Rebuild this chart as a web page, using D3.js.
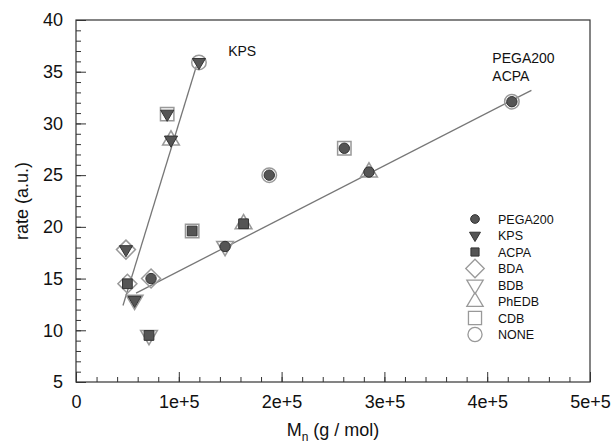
<!DOCTYPE html>
<html>
<head>
<meta charset="utf-8">
<script src="https://cdn.jsdelivr.net/npm/d3@7"></script>
<style>
  body { margin: 0; background: #fff; }
  text { font-family: "Liberation Sans", Arial, sans-serif; fill: #111; }
</style>
</head>
<body>
<script>
// data
var mn       = [4.86e4, 5.0e4, 7.3e4, 5.7e4, 7.1e4, 8.87e4, 9.24e4, 1.196e5, 1.13e5, 1.45e5, 1.63e5, 1.88e5, 2.61e5, 2.85e5, 4.24e5];
var rate     = [17.8, 14.5, 15.0, 12.9, 9.5, 30.9, 28.4, 35.9, 19.6, 18.1, 20.3, 25.0, 27.6, 25.3, 32.1];
var initOf   = ["KPS", "ACPA", "PEGA200", "KPS", "ACPA", "KPS", "KPS", "KPS", "ACPA", "PEGA200", "ACPA", "PEGA200", "PEGA200", "PEGA200", "PEGA200"];
var modOf    = ["BDA", "BDA", "BDA", "BDB", "BDB", "CDB", "PhEDB", "NONE", "CDB", "BDB", "PhEDB", "NONE", "CDB", "PhEDB", "NONE"];

var initiators = ["PEGA200", "KPS", "ACPA"];
var modifiers  = ["BDA", "BDB", "PhEDB", "CDB", "NONE"];

// fitted lines, end points
var kpsFitX  = [4.57e4, 1.17e5];
var kpsFitY  = [12.4, 35.5];
var pegaFitX = [5.84e4, 4.43e5];
var pegaFitY = [13.6, 33.2];

var xTicks = [0, 1e5, 2e5, 3e5, 4e5, 5e5];
var xTickLabels = ["0", "1e+5", "2e+5", "3e+5", "4e+5", "5e+5"];
var yTicks = [5, 10, 15, 20, 25, 30, 35, 40];

// set up
var margin = {top: 20, right: 26, bottom: 66, left: 76},
    outerWidth = 616,
    outerHeight = 448,
    width = outerWidth - margin.left - margin.right,
    height = outerHeight - margin.top - margin.bottom;

var x = d3.scaleLinear().domain([0, 5e5]).range([0, width]);
var y = d3.scaleLinear().domain([5, 40]).range([height, 0]);

var svg = d3.select("body").append("svg")
    .attr("width", outerWidth)
    .attr("height", outerHeight);

var g = svg.append("g")
    .attr("transform", "translate(" + margin.left + "," + margin.top + ")");

// frame
g.append("rect")
    .attr("width", width)
    .attr("height", height)
    .attr("fill", "none")
    .attr("stroke", "#333")
    .attr("stroke-width", 1.2);

// minor ticks (inside)
var xMinor = d3.range(0, 5e5 + 1, 2e4);
var yMinor = d3.range(5, 40.01, 1);

g.append("g")
    .attr("transform", "translate(0," + height + ")")
    .call(d3.axisBottom(x).tickValues(xMinor).tickSize(-5).tickFormat(""))
    .call(function(s) { s.select(".domain").remove(); s.selectAll("line").attr("stroke", "#333"); });

g.append("g")
    .call(d3.axisLeft(y).tickValues(yMinor).tickSize(-5).tickFormat(""))
    .call(function(s) { s.select(".domain").remove(); s.selectAll("line").attr("stroke", "#333"); });

// major ticks + labels
g.append("g")
    .attr("transform", "translate(0," + height + ")")
    .call(d3.axisBottom(x).tickValues(xTicks).tickSize(-10).tickPadding(13)
        .tickFormat(function(d, i) { return xTickLabels[i]; }))
    .call(function(s) {
        s.select(".domain").remove();
        s.selectAll("line").attr("stroke", "#333");
        s.selectAll("text").attr("font-size", "18px").attr("font-family", "Liberation Sans, Arial, sans-serif").attr("fill", "#111");
    });

g.append("g")
    .call(d3.axisLeft(y).tickValues(yTicks).tickSize(-10).tickPadding(13))
    .call(function(s) {
        s.select(".domain").remove();
        s.selectAll("line").attr("stroke", "#333");
        s.selectAll("text").attr("font-size", "18px").attr("font-family", "Liberation Sans, Arial, sans-serif").attr("fill", "#111");
    });

// axis titles
g.append("text")
    .attr("transform", "rotate(-90)")
    .attr("x", -height / 2)
    .attr("y", -margin.left + 28)
    .attr("text-anchor", "middle")
    .attr("font-size", "18px")
    .text("rate (a.u.)");

var xt = g.append("text")
    .attr("x", width / 2)
    .attr("y", height + 54)
    .attr("text-anchor", "middle")
    .attr("font-size", "18px");
xt.append("tspan").text("M");
xt.append("tspan").attr("font-size", "12px").attr("dy", 5).text("n");
xt.append("tspan").attr("dy", -5).text(" (g / mol)");

// fit lines
var line = d3.line().x(function(d) { return x(d[0]); }).y(function(d) { return y(d[1]); });
[[kpsFitX, kpsFitY], [pegaFitX, pegaFitY]].forEach(function(f) {
    g.append("path")
        .attr("d", line(f[0].map(function(v, i) { return [v, f[1][i]]; })))
        .attr("fill", "none")
        .attr("stroke", "#777")
        .attr("stroke-width", 1.3);
});

// symbol shapes
var triDown = {draw: function(c, s) { var r = Math.sqrt(s) / 1.6; c.moveTo(-r, -r * 0.6); c.lineTo(r, -r * 0.6); c.lineTo(0, r * 1.1); c.closePath(); }};
var triUp   = {draw: function(c, s) { var r = Math.sqrt(s) / 1.6; c.moveTo(-r, r * 0.6); c.lineTo(r, r * 0.6); c.lineTo(0, -r * 1.1); c.closePath(); }};
var diamond = {draw: function(c, s) { var r = Math.sqrt(s) / 1.6; c.moveTo(0, -r); c.lineTo(r, 0); c.lineTo(0, r); c.lineTo(-r, 0); c.closePath(); }};

var fillShape = {"PEGA200": d3.symbolCircle, "KPS": triDown, "ACPA": d3.symbolSquare};
var fillSize  = {"PEGA200": 85, "KPS": 110, "ACPA": 95};
var openShape = {"BDA": diamond, "BDB": triDown, "PhEDB": triUp, "CDB": d3.symbolSquare, "NONE": d3.symbolCircle};
var openSize  = {"BDA": 230, "BDB": 180, "PhEDB": 180, "CDB": 180, "NONE": 165};

var pts = mn.map(function(v, i) { return {x: v, y: rate[i], init: initOf[i], mod: modOf[i]}; });

// open markers
g.selectAll(".open")
    .data(pts)
    .enter().append("path")
    .attr("class", "open")
    .attr("transform", function(d) { return "translate(" + x(d.x) + "," + y(d.y) + ")"; })
    .attr("d", function(d) { return d3.symbol(openShape[d.mod], openSize[d.mod])(); })
    .attr("fill", "none")
    .attr("stroke", "#999")
    .attr("stroke-width", 1.5);

// filled markers
g.selectAll(".filled")
    .data(pts)
    .enter().append("path")
    .attr("class", "filled")
    .attr("transform", function(d) { return "translate(" + x(d.x) + "," + y(d.y) + ")"; })
    .attr("d", function(d) { return d3.symbol(fillShape[d.init], fillSize[d.init])(); })
    .attr("fill", "#555")
    .attr("stroke", "#333")
    .attr("stroke-width", 1);

// annotations
g.append("text").attr("x", x(1.48e5)).attr("y", y(36.5)).attr("font-size", "14px").text("KPS");
g.append("text").attr("x", x(4.05e5)).attr("y", y(35.85)).attr("font-size", "14px").text("PEGA200");
g.append("text").attr("x", x(4.05e5)).attr("y", y(34.1)).attr("font-size", "14px").text("ACPA");

// legend
var legendItems = initiators.map(function(k) { return {name: k, shape: fillShape[k], size: fillSize[k] * 0.7, filled: true}; })
    .concat(modifiers.map(function(k) { return {name: k, shape: openShape[k], size: openSize[k] * 0.95, filled: false}; }));

var legend = g.append("g")
    .attr("transform", "translate(" + (475 - margin.left) + "," + (219 - margin.top) + ")");

var li = legend.selectAll(".li")
    .data(legendItems)
    .enter().append("g")
    .attr("transform", function(d, i) { return "translate(0," + i * 16.5 + ")"; });

li.append("path")
    .attr("d", function(d) { return d3.symbol(d.shape, d.size)(); })
    .attr("fill", function(d) { return d.filled ? "#555" : "none"; })
    .attr("stroke", function(d) { return d.filled ? "#333" : "#999"; })
    .attr("stroke-width", function(d) { return d.filled ? 1 : 1.3; });

li.append("text")
    .attr("x", 23)
    .attr("y", 4.5)
    .attr("font-size", "12.5px")
    .text(function(d) { return d.name; });
</script>
</body>
</html>
